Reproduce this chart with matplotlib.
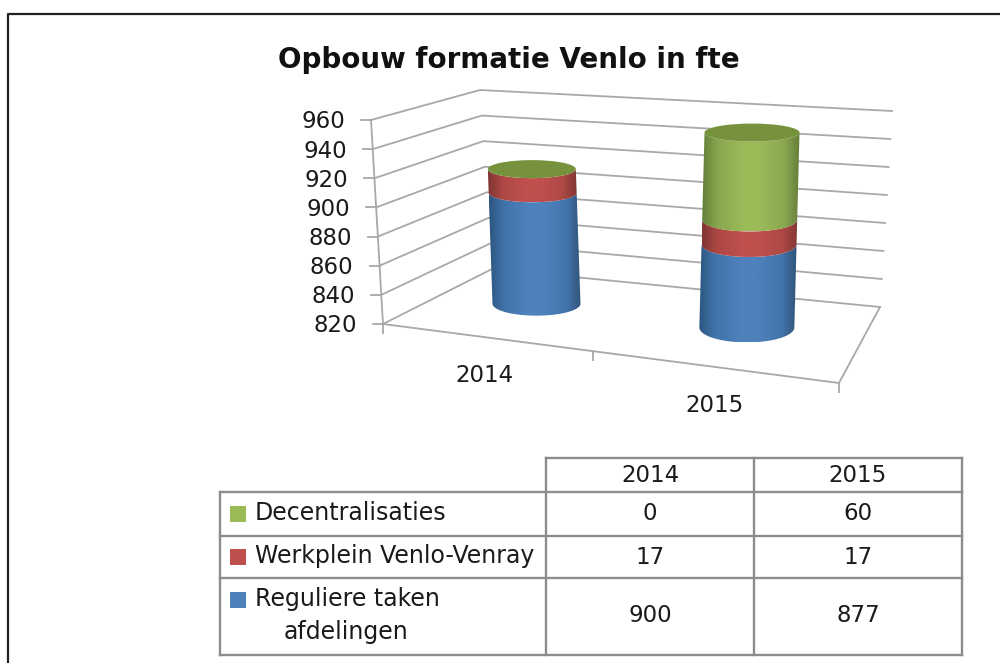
#!/usr/bin/env python3
# -*- coding: utf-8 -*-
import numpy as np
import matplotlib
matplotlib.use('Agg')
import matplotlib.pyplot as plt
from matplotlib.colors import LinearSegmentedColormap
from matplotlib.patches import Polygon, Ellipse, Rectangle

#%% data
years = ['2014', '2015']
series_names = ['Reguliere taken\nafdelingen', 'Werkplein Venlo-Venray', 'Decentralisaties']
reguliere = [900, 877]
werkplein = [17, 17]
decentralisaties = [0, 60]
y_ticks = [820, 840, 860, 880, 900, 920, 940, 960]

#%% colours: left edge, left shoulder, middle, right shoulder, right edge
blue = ['#2c5680', '#4172a8', '#4f81bd', '#4f81bd', '#4375ad', '#2f5479']
red = ['#803533', '#ad4845', '#c0504d', '#c0504d', '#ae4946', '#823634']
green = ['#64803a', '#88a64e', '#9bbb59', '#9bbb59', '#8aa850', '#647d38']
top_green = '#76923c'
grid_col = '#a8a8a8'
tab_col = '#8c8c8c'
txt = '#1a1a1a'
font = 'DejaVu Sans'

#%% pixel corners of the 3d box: (bottom, top) of each vertical edge
front_left = np.array([[383, 324], [371, 120]], float)
front_right = np.array([[839, 383], [851, 158]], float)
back_left = np.array([[492, 269], [480, 90]], float)
back_right = np.array([[880, 307], [892, 111]], float)
vmin, vmax = y_ticks[0], y_ticks[-1]


def project(u, d, v):
    # u along the categories, d into the depth, v the value
    t = (v - vmin) / (vmax - vmin)
    u = u ** 1.12  # perspective along the floor
    fl = front_left[0] + t * (front_left[1] - front_left[0])
    fr = front_right[0] + t * (front_right[1] - front_right[0])
    bl = back_left[0] + t * (back_left[1] - back_left[0])
    br = back_right[0] + t * (back_right[1] - back_right[0])
    front = fl + u * (fr - fl)
    back = bl + u * (br - bl)
    return front + d * (back - front)


def radii(i, v):
    t = (v - vmin) / (vmax - vmin)
    rx = 44 + 3.5 * i
    ry = (12 + 3 * i) - (4.3 + 2 * i) * t
    return rx, ry


def arc(c, rx, ry, forward=True):
    a = np.linspace(np.pi, 0, 50) if forward else np.linspace(0, np.pi, 50)
    return np.column_stack([c[0] + rx * np.cos(a), c[1] + ry * np.sin(a)])


def cyl_u(i):
    return 0.26 + 0.49 * i


def segment(ax, i, v0, v1, cols):
    u = cyl_u(i)
    c0 = project(u, 0.56, v0)
    c1 = project(u, 0.56, v1)
    r0 = radii(i, v0)
    r1 = radii(i, v1)
    pts = np.vstack([arc(c0, r0[0], r0[1]), arc(c1, r1[0], r1[1], False)])
    poly = Polygon(pts, closed=True, fc='none', ec='none', transform=ax.transData)
    ax.add_patch(poly)
    stops = [0, 0.16, 0.42, 0.58, 0.84, 1]
    cm = LinearSegmentedColormap.from_list('c', list(zip(stops, cols)))
    grad = np.linspace(0, 1, 256).reshape(1, -1)
    im = ax.imshow(grad, cmap=cm, aspect='auto', zorder=3,
                   extent=[pts[:, 0].min(), pts[:, 0].max(), pts[:, 1].max(), pts[:, 1].min()])
    im.set_clip_path(poly)


fig = plt.figure(figsize=(10, 6.63), dpi=100)
ax = fig.add_axes([0, 0, 1, 1])
ax.axis('off')

#%% outer frame
ax.plot([8, 8, 1000], [663, 14, 14], color='#222222', lw=1.6, zorder=1)

#%% walls, grid and ticks
gk = dict(color=grid_col, lw=1.3, zorder=2)
for v in y_ticks:
    a = project(0, 0, v)
    b = project(0, 1, v)
    c = project(1, 1, v)
    ax.plot([a[0], b[0], c[0]], [a[1], b[1], c[1]], **gk)
    ax.plot([a[0] - 10, a[0]], [a[1], a[1]], **gk)
    ax.text(a[0] - 26, a[1] + 2, str(v), ha='right', va='center', fontsize=16.5, color=txt, family=font)
p0 = project(0, 0, vmin)
p1 = project(0, 0, vmax)
ax.plot([p0[0], p1[0]], [p0[1], p1[1]], **gk)
p2 = project(1, 0, vmin)
p3 = project(1, 1, vmin)
ax.plot([p0[0], p2[0], p3[0]], [p0[1], p2[1], p3[1]], **gk)
for u in [0, 0.5, 1]:
    p = project(u, 0, vmin)
    ax.plot([p[0], p[0]], [p[1], p[1] + 9], **gk)
for i, y in enumerate(years):
    p = project((i + 0.5) / 2, 0, vmin)
    ax.text(p[0] + 5 - 4 * i, p[1] + 39, y, ha='center', va='center', fontsize=16.5, color=txt, family=font)

#%% stacked cylinders
for i in range(len(years)):
    b0 = vmin
    b1 = reguliere[i]
    b2 = b1 + werkplein[i]
    b3 = b2 + decentralisaties[i]
    segment(ax, i, b0, b1, blue)
    segment(ax, i, b1, b2, red)
    if decentralisaties[i] > 0:
        segment(ax, i, b2, b3, green)
    c = project(cyl_u(i), 0.56, b3)
    rx, ry = radii(i, b3)
    ax.add_patch(Ellipse(c, 2 * rx, 2 * ry, fc=top_green, ec='none', zorder=4))

#%% title
ax.text(509, 60, 'Opbouw formatie Venlo in fte', ha='center', va='center', fontsize=20,
        fontweight='bold', color='#111111', family=font)

#%% data table
col_x = [220, 546, 754, 962]
row_y = [458, 492, 536, 578, 655]
tk = dict(color=tab_col, lw=1.7, zorder=2, solid_capstyle='projecting')
ax.plot([col_x[1], col_x[3]], [row_y[0], row_y[0]], **tk)
for y in row_y[1:]:
    ax.plot([col_x[0], col_x[3]], [y, y], **tk)
ax.plot([col_x[0], col_x[0]], [row_y[1], row_y[4]], **tk)
for x in col_x[1:]:
    ax.plot([x, x], [row_y[0], row_y[4]], **tk)

num_font = dict(fontsize=16.5, color=txt, family=font, va='center')
lab_font = dict(fontsize=17, color=txt, family=font, va='center')
col_mid = [650, 858]
for i, y in enumerate(years):
    ax.text(col_mid[i], 475, y, ha='center', **num_font)
rows = [(decentralisaties, series_names[2], green[2], 514),
        (werkplein, series_names[1], red[2], 557),
        (reguliere, series_names[0], blue[2], 616)]
for vals, name, col, y in rows:
    for i, v in enumerate(vals):
        ax.text(col_mid[i], y, str(v), ha='center', **num_font)
    parts = name.split('\n')
    if len(parts) == 1:
        ax.add_patch(Rectangle((230, y - 8), 16, 16, fc=col, ec='none', zorder=3))
        ax.text(255, y - 1, parts[0], ha='left', **lab_font)
    else:
        ax.add_patch(Rectangle((230, y - 24), 16, 16, fc=col, ec='none', zorder=3))
        ax.text(255, y - 17, parts[0], ha='left', **lab_font)
        ax.text(284, y + 16, parts[1], ha='left', **lab_font)

ax.set_xlim(0, 1000)
ax.set_ylim(663, 0)
fig.savefig('out.png', dpi=100, facecolor='white')
